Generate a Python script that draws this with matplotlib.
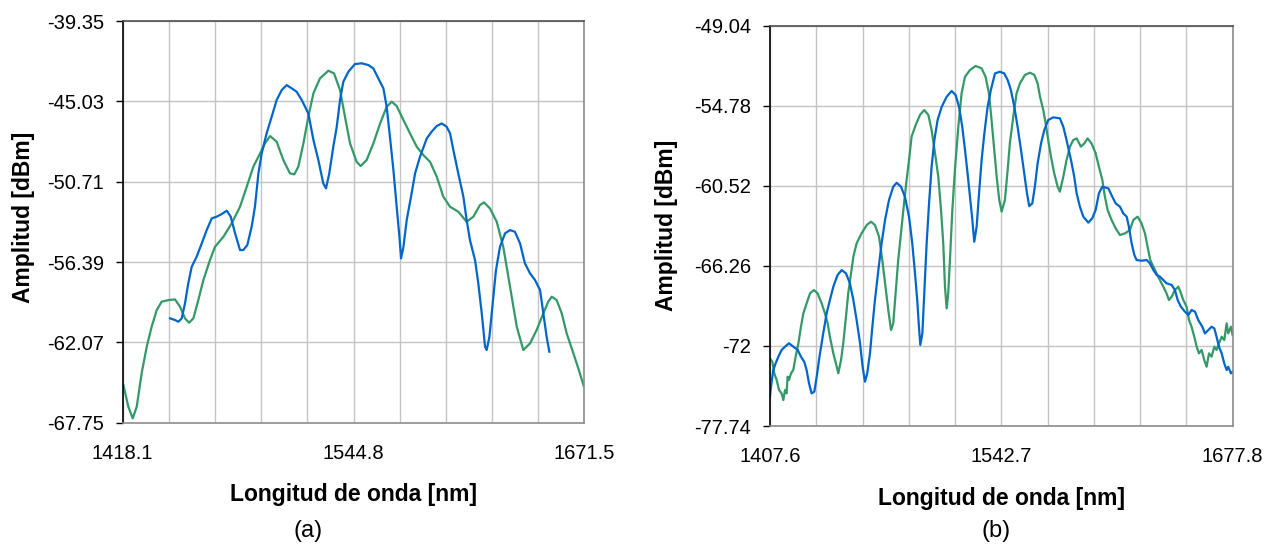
import matplotlib
matplotlib.use('Agg')
import matplotlib.pyplot as plt
import numpy as np

plt.rcParams['font.family'] = ['Liberation Sans', 'DejaVu Sans']

# panel (a)
a_xlim = (1418.1, 1671.5)
a_ylim = (-67.75, -39.35)
a_xticklabels = ['1418.1', '1544.8', '1671.5']
a_yticklabels = ['-67.75', '-62.07', '-56.39', '-50.71', '-45.03', '-39.35']

a_green_x = [1418.5, 1421.2, 1423.6, 1425.8, 1428.5, 1431.3, 1434.0, 1436.8, 1439.5, 1443.2,
             1446.8, 1449.6, 1452.3, 1454.5, 1456.9, 1459.6, 1462.4, 1466.0, 1468.8, 1473.4,
             1477.9, 1482.5, 1486.2, 1489.8, 1493.5, 1496.2, 1499.0, 1502.6, 1506.3, 1509.9,
             1512.3, 1514.5, 1517.3, 1520.0, 1522.8, 1526.4, 1531.0, 1534.1, 1537.4, 1540.1,
             1542.9, 1546.5, 1548.7, 1552.0, 1555.7, 1559.4, 1563.0, 1565.8, 1568.5, 1572.2,
             1575.8, 1579.5, 1583.1, 1586.8, 1590.5, 1594.1, 1597.8, 1602.3, 1606.9, 1610.6,
             1614.2, 1616.4, 1619.7, 1623.4, 1627.0, 1630.7, 1634.4, 1638.0, 1641.7, 1645.3,
             1649.0, 1651.7, 1653.6, 1656.3, 1659.1, 1661.8, 1665.5, 1668.2, 1671.3]
a_green_y = [-65.09, -66.62, -67.44, -66.62, -64.26, -62.38, -60.96, -59.78, -59.19, -59.08,
             -59.03, -59.55, -60.37, -60.68, -60.37, -59.08, -57.66, -56.25, -55.31, -54.60,
             -53.66, -52.48, -51.06, -49.65, -48.71, -48.00, -47.48, -47.88, -49.18, -50.12,
             -50.19, -49.65, -48.00, -46.11, -44.46, -43.40, -42.86, -43.05, -44.23, -46.11,
             -48.00, -49.30, -49.60, -49.18, -48.00, -46.59, -45.41, -45.05, -45.36, -46.35,
             -47.29, -48.24, -48.82, -49.30, -50.36, -51.77, -52.48, -52.83, -53.54, -53.18,
             -52.36, -52.17, -52.60, -53.54, -55.31, -58.13, -60.96, -62.61, -62.14, -61.20,
             -60.02, -59.19, -58.84, -59.08, -60.02, -61.43, -62.85, -63.91, -65.20]

a_blue_x = [1444.1, 1446.8, 1448.7, 1450.5, 1452.3, 1454.1, 1456.0, 1458.7, 1461.5, 1464.2,
            1467.0, 1469.7, 1472.4, 1475.2, 1477.4, 1479.8, 1482.5, 1484.3, 1486.5, 1488.9,
            1490.7, 1492.6, 1494.4, 1497.1, 1499.9, 1502.6, 1505.4, 1508.1, 1510.9, 1513.6,
            1516.4, 1520.0, 1522.8, 1525.5, 1528.2, 1529.7, 1531.5, 1533.7, 1535.6, 1537.4,
            1539.2, 1542.0, 1545.6, 1549.3, 1552.9, 1555.7, 1558.4, 1561.2, 1563.0, 1564.8,
            1566.7, 1568.5, 1570.0, 1570.9, 1572.2, 1574.0, 1576.7, 1578.6, 1581.3, 1585.0,
            1587.7, 1590.5, 1593.2, 1595.9, 1597.8, 1599.6, 1602.3, 1605.1, 1606.9, 1608.7,
            1611.5, 1613.3, 1615.2, 1617.0, 1617.9, 1619.4, 1621.2, 1623.0, 1625.2, 1628.0,
            1630.7, 1633.4, 1636.2, 1638.9, 1641.7, 1644.4, 1647.2, 1649.0, 1650.8, 1652.3]
a_blue_y = [-60.37, -60.49, -60.61, -60.37, -59.31, -57.90, -56.72, -56.01, -55.07, -54.13,
            -53.30, -53.18, -53.00, -52.76, -53.18, -54.36, -55.54, -55.54, -55.19, -53.89,
            -52.48, -50.12, -48.71, -47.29, -46.11, -44.94, -44.23, -43.88, -44.11, -44.35,
            -44.94, -45.88, -47.76, -49.18, -50.83, -51.18, -50.12, -48.24, -46.82, -44.94,
            -43.64, -42.93, -42.39, -42.34, -42.46, -42.70, -43.40, -44.11, -45.41, -47.53,
            -49.89, -52.48, -54.60, -56.13, -55.31, -53.42, -51.53, -50.12, -48.94, -47.65,
            -47.17, -46.77, -46.59, -46.82, -47.29, -48.47, -50.12, -51.77, -53.42, -54.83,
            -56.25, -57.90, -60.02, -62.38, -62.61, -61.67, -59.31, -56.96, -55.31, -54.36,
            -54.13, -54.25, -55.07, -56.49, -57.19, -57.66, -58.37, -60.02, -61.67, -62.73]

# panel (b)
b_xlim = (1407.6, 1677.8)
b_ylim = (-77.74, -49.04)
b_xticklabels = ['1407.6', '1542.7', '1677.8']
b_yticklabels = ['-77.74', '-72', '-66.26', '-60.52', '-54.78', '-49.04']

b_green_x = [1407.6, 1409.0, 1410.1, 1411.5, 1412.9, 1414.4, 1415.4, 1416.4, 1417.3, 1417.9,
             1418.7, 1419.9, 1421.2, 1422.6, 1424.2, 1425.7, 1427.1, 1429.0, 1431.0, 1433.3,
             1435.4, 1437.8, 1439.7, 1441.3, 1442.6, 1444.6, 1446.1, 1447.5, 1449.1, 1450.4,
             1451.8, 1453.3, 1454.9, 1456.3, 1458.2, 1461.1, 1464.1, 1466.6, 1468.9, 1471.3,
             1473.2, 1475.1, 1476.7, 1478.3, 1479.6, 1481.0, 1482.5, 1484.5, 1486.1, 1487.4,
             1488.8, 1490.3, 1492.7, 1495.2, 1497.7, 1500.1, 1502.0, 1504.0, 1505.9, 1507.5,
             1508.8, 1509.8, 1510.8, 1511.7, 1512.7, 1514.1, 1515.6, 1517.6, 1519.5, 1521.5,
             1524.4, 1527.7, 1531.2, 1533.5, 1535.5, 1537.0, 1538.6, 1540.0, 1541.5, 1542.9,
             1544.8, 1546.4, 1547.7, 1549.7, 1551.6, 1553.6, 1556.5, 1559.4, 1562.0, 1563.9,
             1565.3, 1567.2, 1568.6, 1570.1, 1571.7, 1573.6, 1575.6, 1576.9, 1578.9, 1580.8,
             1582.8, 1584.7, 1586.7, 1589.2, 1591.2, 1593.1, 1595.4, 1597.8, 1599.7, 1601.7,
             1603.2, 1604.8, 1607.1, 1609.5, 1612.0, 1614.9, 1617.8, 1619.8, 1622.3, 1624.6,
             1626.6, 1628.1, 1629.7, 1631.5, 1633.4, 1635.3, 1637.3, 1639.2, 1640.6, 1642.2,
             1644.1, 1646.1, 1647.6, 1649.0, 1650.9, 1652.3, 1653.8, 1655.4, 1656.8, 1658.1,
             1659.7, 1661.2, 1662.6, 1664.0, 1665.5, 1667.1, 1668.4, 1669.8, 1671.4, 1672.9,
             1674.3, 1675.2, 1676.8, 1677.8]
b_green_y = [-72.89, -73.13, -73.96, -74.44, -75.16, -75.40, -75.88, -75.16, -75.40, -74.20,
             -74.44, -73.96, -73.73, -72.77, -71.81, -70.62, -69.66, -68.95, -68.23, -67.99,
             -68.23, -68.95, -69.66, -70.38, -71.34, -72.53, -73.25, -73.96, -73.01, -71.81,
             -70.14, -68.23, -66.80, -65.60, -64.64, -63.93, -63.33, -63.09, -63.33, -64.17,
             -65.84, -67.75, -69.42, -70.86, -70.38, -68.23, -65.84, -63.45, -61.54, -60.10,
             -58.67, -57.00, -56.16, -55.44, -55.09, -55.44, -56.52, -58.19, -59.87, -62.26,
             -64.64, -67.75, -69.31, -68.23, -65.84, -62.26, -59.39, -56.28, -53.89, -52.70,
             -52.22, -51.93, -52.10, -52.70, -53.89, -55.80, -57.95, -59.87, -61.54, -62.37,
             -61.54, -59.39, -57.47, -55.56, -53.89, -53.17, -52.57, -52.41, -52.57, -53.17,
             -54.13, -55.08, -56.04, -57.24, -58.43, -59.63, -60.58, -60.94, -59.87, -58.67,
             -57.71, -57.24, -57.12, -57.71, -57.48, -57.12, -57.48, -58.19, -59.15, -60.10,
             -61.30, -62.26, -62.97, -63.57, -64.05, -63.93, -63.69, -62.97, -62.73, -63.21,
             -63.93, -64.88, -65.84, -66.32, -66.80, -67.27, -67.75, -68.23, -68.71, -68.47,
             -67.99, -67.75, -68.23, -68.71, -69.19, -70.14, -70.62, -71.34, -72.05, -72.53,
             -72.29, -73.01, -73.49, -72.53, -72.77, -72.05, -72.29, -71.81, -71.34, -71.58,
             -70.38, -71.10, -70.62, -71.22]

b_blue_x = [1407.6, 1408.2, 1409.5, 1410.9, 1412.5, 1414.4, 1416.4, 1418.7, 1421.2, 1423.8,
            1425.7, 1427.6, 1429.0, 1430.4, 1431.9, 1433.5, 1434.9, 1436.8, 1438.7, 1440.7,
            1442.6, 1444.6, 1447.1, 1449.5, 1452.0, 1454.3, 1456.3, 1458.2, 1460.2, 1461.7,
            1463.1, 1464.4, 1466.0, 1467.4, 1468.9, 1470.9, 1472.8, 1474.8, 1477.1, 1479.6,
            1481.6, 1484.1, 1486.4, 1488.8, 1490.7, 1492.3, 1493.6, 1494.6, 1495.4, 1496.6,
            1497.7, 1499.1, 1500.5, 1502.0, 1503.6, 1505.5, 1507.9, 1510.8, 1513.7, 1516.0,
            1518.0, 1519.9, 1521.5, 1523.0, 1524.4, 1525.8, 1526.9, 1528.3, 1529.7, 1531.2,
            1532.8, 1534.7, 1536.6, 1539.0, 1541.9, 1544.4, 1546.4, 1548.3, 1550.3, 1552.2,
            1554.2, 1556.1, 1557.7, 1559.0, 1560.8, 1562.3, 1563.9, 1565.9, 1567.8, 1570.1,
            1573.1, 1576.9, 1578.9, 1580.8, 1583.4, 1585.3, 1586.7, 1588.6, 1590.6, 1593.5,
            1595.8, 1597.8, 1599.7, 1601.7, 1605.2, 1607.5, 1609.5, 1612.0, 1613.9, 1615.9,
            1617.2, 1618.8, 1620.4, 1621.7, 1624.6, 1627.6, 1629.5, 1631.5, 1633.4, 1635.3,
            1637.3, 1639.2, 1642.2, 1644.1, 1645.7, 1647.6, 1649.9, 1651.9, 1653.8, 1655.8,
            1657.7, 1660.1, 1661.6, 1663.6, 1665.5, 1667.1, 1668.4, 1669.8, 1671.4, 1672.9,
            1674.3, 1675.2, 1676.8, 1677.8]
b_blue_y = [-75.64, -74.92, -73.73, -73.25, -72.77, -72.29, -72.05, -71.81, -72.05, -72.29,
            -72.77, -73.13, -73.73, -74.68, -75.40, -75.28, -74.20, -72.53, -71.10, -69.66,
            -68.71, -67.75, -66.91, -66.56, -66.80, -67.51, -68.71, -70.14, -71.81, -73.49,
            -74.56, -73.96, -72.53, -70.62, -68.71, -66.56, -64.64, -62.97, -61.54, -60.58,
            -60.30, -60.58, -61.30, -62.73, -64.64, -66.80, -68.71, -70.62, -71.93, -71.10,
            -68.23, -64.64, -61.78, -59.15, -57.24, -55.80, -54.85, -54.13, -53.72, -54.01,
            -54.85, -56.28, -57.95, -59.63, -61.30, -62.97, -64.53, -63.45, -61.06, -58.67,
            -56.76, -54.85, -53.65, -52.46, -52.34, -52.46, -52.93, -53.65, -54.85, -56.28,
            -57.95, -59.63, -61.06, -61.97, -61.78, -60.58, -58.91, -57.48, -56.52, -55.80,
            -55.61, -55.68, -56.28, -57.24, -58.67, -59.87, -61.06, -62.02, -62.73, -63.16,
            -62.85, -62.25, -61.06, -60.58, -60.70, -61.30, -61.78, -62.02, -62.49, -62.73,
            -63.45, -64.64, -65.48, -65.84, -65.89, -65.84, -66.08, -66.56, -66.91, -67.03,
            -67.27, -67.51, -67.63, -67.99, -68.71, -69.19, -69.54, -69.78, -69.42, -69.54,
            -70.14, -70.62, -71.10, -70.86, -70.62, -70.74, -71.34, -72.05, -72.53, -73.25,
            -73.73, -73.49, -73.96, -73.85]

BLUE = '#0066cc'
GREEN = '#339966'


def style_axes(ax, xlim, ylim, xticklabels, yticklabels):
    ax.set_xlim(xlim)
    ax.set_ylim(ylim)
    xt = np.linspace(xlim[0], xlim[1], 11)
    ax.set_xticks(xt)
    labels = [''] * 11
    labels[0], labels[5], labels[10] = xticklabels
    ax.set_xticklabels(labels)
    ax.set_yticks(np.linspace(ylim[0], ylim[1], 6))
    ax.set_yticklabels(yticklabels)
    ax.grid(True, color='#c4c4c4', linewidth=1.0)
    ax.set_axisbelow(True)
    ax.tick_params(axis='x', length=0, pad=15, labelsize=14.5)
    ax.tick_params(axis='y', length=5, width=1, pad=8.5, labelsize=14.5, colors='black')
    ax.spines['top'].set_color('#505050')
    ax.spines['right'].set_color('#8c8c8c')
    ax.spines['bottom'].set_color('#8c8c8c')
    ax.spines['left'].set_color('black')
    for side in ax.spines:
        ax.spines[side].set_linewidth(1.2)


fig = plt.figure(figsize=(12.82, 5.48), dpi=100)

ax1 = fig.add_axes([0.0957, 0.2286, 0.3601, 0.7330])
ax1.plot(a_green_x, a_green_y, color=GREEN, linewidth=1.6)
ax1.plot(a_blue_x, a_blue_y, color=BLUE, linewidth=1.6)
style_axes(ax1, a_xlim, a_ylim, a_xticklabels, a_yticklabels)
ax1.set_xlabel('Longitud de onda [nm]', fontsize=16.5, fontweight='bold', va='center')
ax1.xaxis.set_label_coords(0.5, -0.1775)
ax1.set_ylabel('Amplitud [dBm]', fontsize=16.5, fontweight='bold', va='center')
ax1.yaxis.set_label_coords(-0.215, 0.511)

ax2 = fig.add_axes([0.6006, 0.2226, 0.3609, 0.7305])
ax2.plot(b_green_x, b_green_y, color=GREEN, linewidth=1.6)
ax2.plot(b_blue_x, b_blue_y, color=BLUE, linewidth=1.6)
style_axes(ax2, b_xlim, b_ylim, b_xticklabels, b_yticklabels)
ax2.set_xlabel('Longitud de onda [nm]', fontsize=16.5, fontweight='bold', va='center')
ax2.xaxis.set_label_coords(0.5014, -0.18)
ax2.set_ylabel('Amplitud [dBm]', fontsize=16.5, fontweight='bold', va='center')
ax2.yaxis.set_label_coords(-0.2235, 0.501)

fig.text(308 / 1282, 1 - 531 / 548, '(a)', fontsize=17, ha='center', va='center')
fig.text(996 / 1282, 1 - 531 / 548, '(b)', fontsize=17, ha='center', va='center')

fig.savefig('out.png', dpi=100, facecolor='white')
